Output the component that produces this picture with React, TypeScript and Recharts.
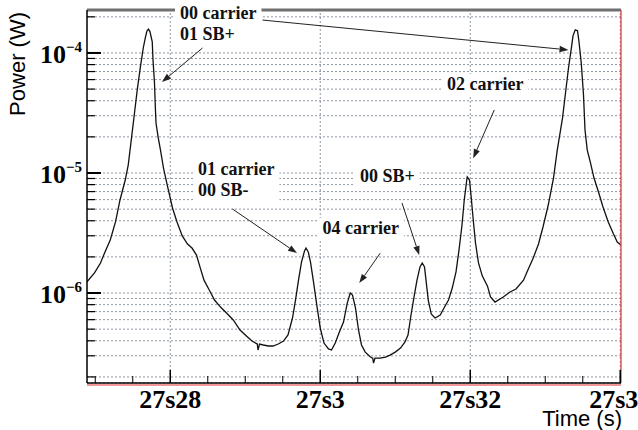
import React from "react";
import { LineChart, Line, XAxis, YAxis, CartesianGrid, ReferenceLine, ReferenceDot, Label } from "recharts";

// time in seconds, power in W
const times = [
  27.2689, 27.2699, 27.2707, 27.2713, 27.272, 27.2727, 27.2733, 27.274, 27.2744, 27.2748,
  27.2752, 27.2756, 27.276, 27.2764, 27.2767, 27.2769, 27.2771, 27.2773, 27.2776, 27.2777,
  27.2779, 27.278, 27.2781, 27.2784, 27.2787, 27.2791, 27.2796, 27.2803, 27.2809, 27.2816,
  27.2823, 27.2829, 27.2835, 27.284, 27.2845, 27.2852, 27.2859, 27.2867, 27.2875, 27.2884,
  27.2893, 27.2903, 27.2909, 27.2916, 27.2917, 27.2919, 27.2924, 27.2931, 27.2937, 27.2944,
  27.2951, 27.2957, 27.2963, 27.2967, 27.2971, 27.2975, 27.2979, 27.2981, 27.2984, 27.2987,
  27.2991, 27.2995, 27.3, 27.3005, 27.3011, 27.3015, 27.302, 27.3025, 27.3031, 27.3036,
  27.304, 27.3043, 27.3047, 27.3051, 27.3055, 27.306, 27.3067, 27.307, 27.3071, 27.3073,
  27.308, 27.3087, 27.3093, 27.31, 27.3107, 27.3113, 27.3117, 27.3121, 27.3125, 27.3129,
  27.3133, 27.3136, 27.3139, 27.3141, 27.3144, 27.3148, 27.3153, 27.316, 27.3165, 27.3171,
  27.3176, 27.3181, 27.3185, 27.3189, 27.3192, 27.3195, 27.3196, 27.3199, 27.3201, 27.3204,
  27.3207, 27.3211, 27.3216, 27.3223, 27.3227, 27.3233, 27.3244, 27.3253, 27.3261, 27.3271,
  27.3277, 27.3284, 27.3291, 27.3297, 27.3304, 27.3311, 27.3316, 27.3323, 27.3327, 27.3331,
  27.3335, 27.3337, 27.334, 27.3343, 27.3345, 27.3348, 27.3351, 27.3353, 27.3356, 27.336,
  27.3365, 27.3371, 27.3377, 27.3384, 27.3391, 27.3396, 27.3401,
];

const powers = [
  1.24e-6, 1.47e-6, 1.78e-6, 2.2e-6, 2.77e-6, 3.91e-6, 5.96e-6, 8.74e-6, 1.17e-5, 1.88e-5,
  3.04e-5, 4.92e-5, 7.5e-5, 1.1e-4, 1.36e-4, 1.53e-4, 1.58e-4, 1.5e-4, 1.24e-4, 8.74e-5,
  5.62e-5, 3.69e-5, 2.61e-5, 1.96e-5, 1.55e-5, 1.1e-5, 7.94e-6, 5.11e-6, 3.91e-6, 2.99e-6,
  2.56e-6, 2.37e-6, 2.07e-6, 1.62e-6, 1.28e-6, 1.06e-6, 8.74e-7, 7.64e-7, 6.81e-7, 5.96e-7,
  4.92e-7, 4.3e-7, 3.98e-7, 3.76e-7, 3.35e-7, 3.76e-7, 3.69e-7, 3.62e-7, 3.62e-7, 3.76e-7,
  3.98e-7, 4.47e-7, 6.19e-7, 8.74e-7, 1.28e-6, 1.81e-6, 2.24e-6, 2.37e-6, 2.2e-6, 1.81e-6,
  1.24e-6, 8.25e-7, 5.11e-7, 3.83e-7, 3.42e-7, 3.35e-7, 3.83e-7, 4.64e-7, 5.73e-7, 8.25e-7,
  1.0e-6, 9.62e-7, 7.5e-7, 4.92e-7, 3.69e-7, 3.22e-7, 2.93e-7, 2.87e-7, 2.61e-7, 2.87e-7,
  2.87e-7, 2.93e-7, 3.04e-7, 3.22e-7, 3.48e-7, 3.91e-7, 4.47e-7, 6.56e-7, 9.26e-7, 1.28e-6,
  1.65e-6, 1.78e-6, 1.65e-6, 1.28e-6, 8.74e-7, 6.68e-7, 6.19e-7, 6.56e-7, 7.5e-7, 8.74e-7,
  1.1e-6, 1.5e-6, 2.28e-6, 3.69e-6, 5.96e-6, 8.41e-6, 9.26e-6, 8.74e-6, 6.56e-6, 4.06e-6,
  2.61e-6, 1.78e-6, 1.39e-6, 1.14e-6, 9.26e-7, 8.41e-7, 9.26e-7, 1.02e-6, 1.08e-6, 1.28e-6,
  1.56e-6, 1.96e-6, 2.56e-6, 3.55e-6, 5.41e-6, 9.08e-6, 1.55e-5, 2.87e-5, 4.64e-5, 7.5e-5,
  1.12e-4, 1.39e-4, 1.56e-4, 1.53e-4, 1.24e-4, 8.25e-5, 4.47e-5, 2.28e-5, 1.55e-5, 1.24e-5,
  9.08e-6, 6.95e-6, 5.21e-6, 3.91e-6, 3.1e-6, 2.66e-6, 2.51e-6,
];

const xDomain = [27.2689, 27.3401];
const yDomain = [1.78e-7, 2.28e-4];

const xMajorTicks = [27.28, 27.3, 27.32, 27.34];
const xTickLabels = ["27s28", "27s3", "27s32", "27s34"];
const xMinorTicks = [27.27, 27.275, 27.285, 27.29, 27.295, 27.305, 27.31, 27.315, 27.325, 27.33, 27.335];

const yMajorTicks = [1e-6, 1e-5, 1e-4];
const yMinorTicks = [
  2e-7, 3e-7, 4e-7, 5e-7, 6e-7, 7e-7, 8e-7, 9e-7,
  2e-6, 3e-6, 4e-6, 5e-6, 6e-6, 7e-6, 8e-6, 9e-6,
  2e-5, 3e-5, 4e-5, 5e-5, 6e-5, 7e-5, 8e-5, 9e-5,
  2e-4,
];

// labels anchored at their left edge / first baseline
const annotations = [
  { lines: ["00 carrier", "01 SB+"], t: 27.2813, p: 1.92e-4 },
  { lines: ["02 carrier"], t: 27.3169, p: 4.92e-5 },
  { lines: ["01 carrier", "00 SB-"], t: 27.2837, p: 9.62e-6 },
  { lines: ["04 carrier"], t: 27.3003, p: 3.1e-6 },
  { lines: ["00 SB+"], t: 27.3053, p: 8.41e-6 },
];

const arrows = [
  { from: [27.2843, 1.1e-4], to: [27.2789, 5.73e-5] },
  { from: [27.2923, 1.88e-4], to: [27.3331, 1.06e-4] },
  { from: [27.3232, 3.35e-5], to: [27.3204, 1.33e-5] },
  { from: [27.2883, 5.01e-6], to: [27.2969, 2.15e-6] },
  { from: [27.308, 2.15e-6], to: [27.3052, 1.21e-6] },
  { from: [27.3109, 5.62e-6], to: [27.3132, 2.07e-6] },
];

const data = times.map((t, i) => ({ t, p: powers[i] }));
const xTicks = [...xMinorTicks, ...xMajorTicks].sort((a, b) => a - b);
const yTicks = [...yMinorTicks, ...yMajorTicks].sort((a, b) => a - b);

const SERIF = "'Liberation Serif', 'Times New Roman', serif";
const SANS = "'Liberation Sans', Arial, sans-serif";
const GRID = "#8e97a4";

let ctx: CanvasRenderingContext2D | null = null;
function textWidth(s: string) {
  if (!ctx) ctx = document.createElement("canvas").getContext("2d");
  if (!ctx) return s.length * 8;
  ctx.font = `bold 18px ${SERIF}`;
  return ctx.measureText(s).width;
}

function XTick(props: any) {
  const { x, y, payload } = props;
  const idx = xMajorTicks.findIndex((m) => Math.abs(m - payload.value) < 1e-7);
  const major = idx >= 0;
  return (
    <g>
      <line x1={x} y1={y} x2={x} y2={y - (major ? 13 : 7)} stroke="#000" strokeWidth={major ? 1.5 : 1} />
      {major && (
        <text x={x} y={y + 25} textAnchor="middle" fontFamily={SERIF} fontWeight="bold" fontSize={26} fill="#000">
          {xTickLabels[idx]}
        </text>
      )}
    </g>
  );
}

function YTick(props: any) {
  const { x, y, payload } = props;
  const exp = Math.round(Math.log10(payload.value));
  const major = yMajorTicks.some((m) => Math.abs(m / payload.value - 1) < 1e-6);
  return (
    <g>
      <line x1={x} y1={y} x2={x + (major ? 14 : 8)} y2={y} stroke="#000" strokeWidth={major ? 2 : 1.2} />
      {major && (
        <text x={x - 5} y={y + 10} textAnchor="end" fontFamily={SERIF} fontWeight="bold" fontSize={26} fill="#000">
          10
          <tspan dy={-11} fontSize={15}>
            {"\u2212" + Math.abs(exp)}
          </tspan>
        </text>
      )}
    </g>
  );
}

function Arrow(props: any) {
  const { x1, y1, x2, y2 } = props;
  const a = Math.atan2(y2 - y1, x2 - x1);
  const len = 9;
  const w = 3.2;
  const bx = x2 - len * Math.cos(a);
  const by = y2 - len * Math.sin(a);
  const pts = `${x2},${y2} ${bx - w * Math.sin(a)},${by + w * Math.cos(a)} ${bx + w * Math.sin(a)},${by - w * Math.cos(a)}`;
  return (
    <g>
      <line x1={x1} y1={y1} x2={bx} y2={by} stroke="#222" strokeWidth={1} />
      <polygon points={pts} fill="#222" />
    </g>
  );
}

function makeNote(lines: string[]) {
  return (props: any) => {
    const { cx, cy } = props;
    const w = Math.max(...lines.map(textWidth));
    const step = 21;
    return (
      <g>
        <rect x={cx - 5} y={cy - 16} width={w + 10} height={(lines.length - 1) * step + 22} fill="#fff" />
        {lines.map((l, i) => (
          <text key={l} x={cx} y={cy + i * step} fontFamily={SERIF} fontWeight="bold" fontSize={18} fill="#111">
            {l}
          </text>
        ))}
      </g>
    );
  };
}

export default function App() {
  return (
    <div style={{ position: "absolute", left: 0, top: 0, width: 638, height: 430, background: "#fff", overflow: "hidden" }}>
      <LineChart width={638} height={430} data={data} margin={{ top: 10, right: 17, bottom: 0, left: 0 }}>
        <CartesianGrid vertical={false} stroke={GRID} strokeDasharray="2 2" />
        {xMajorTicks.map((v) => (
          <ReferenceLine key={v} x={v} stroke={GRID} strokeDasharray="2 2" />
        ))}
        <XAxis
          dataKey="t"
          type="number"
          domain={xDomain}
          allowDataOverflow
          ticks={xTicks}
          interval={0}
          tick={<XTick />}
          tickLine={false}
          tickSize={0}
          tickMargin={0}
          height={47}
          axisLine={{ stroke: "#000", strokeWidth: 1.5 }}
        >
          <Label
            content={(p: any) => (
              <text x={p.viewBox.x + p.viewBox.width + 1} y={p.viewBox.y + 43} textAnchor="end" fontFamily={SANS} fontSize={22} fill="#000">
                Time (s)
              </text>
            )}
          />
        </XAxis>
        <YAxis
          dataKey="p"
          type="number"
          scale="log"
          domain={yDomain}
          allowDataOverflow
          ticks={yTicks}
          interval={0}
          tick={<YTick />}
          tickLine={false}
          tickSize={0}
          tickMargin={0}
          width={87}
          axisLine={{ stroke: "#000", strokeWidth: 1.5 }}
        >
          <Label
            content={(p: any) => (
              <text
                x={25}
                y={p.viewBox.y + 2}
                transform={`rotate(-90, 25, ${p.viewBox.y + 2})`}
                textAnchor="end"
                fontFamily={SANS}
                fontSize={22}
                fill="#000"
              >
                Power (W)
              </text>
            )}
          />
        </YAxis>
        <Line dataKey="p" type="linear" stroke="#111" strokeWidth={1.3} dot={false} isAnimationActive={false} />
        <ReferenceLine y={yDomain[1]} stroke="#707070" strokeWidth={3} />
        <ReferenceLine x={xDomain[1]} stroke="#e03030" strokeWidth={1.2} />
        <ReferenceLine
          y={yDomain[0]}
          shape={(p: any) => <line x1={p.x1} x2={p.x2} y1={p.y1 + 2} y2={p.y2 + 2} stroke="#e03030" strokeWidth={1} />}
        />
        {arrows.map((a, i) => (
          <ReferenceLine
            key={"a" + i}
            segment={[
              { x: a.from[0], y: a.from[1] },
              { x: a.to[0], y: a.to[1] },
            ]}
            shape={(p: any) => <Arrow {...p} />}
          />
        ))}
        {annotations.map((n, i) => (
          <ReferenceDot key={"n" + i} x={n.t} y={n.p} r={0} shape={makeNote(n.lines)} />
        ))}
      </LineChart>
    </div>
  );
}
